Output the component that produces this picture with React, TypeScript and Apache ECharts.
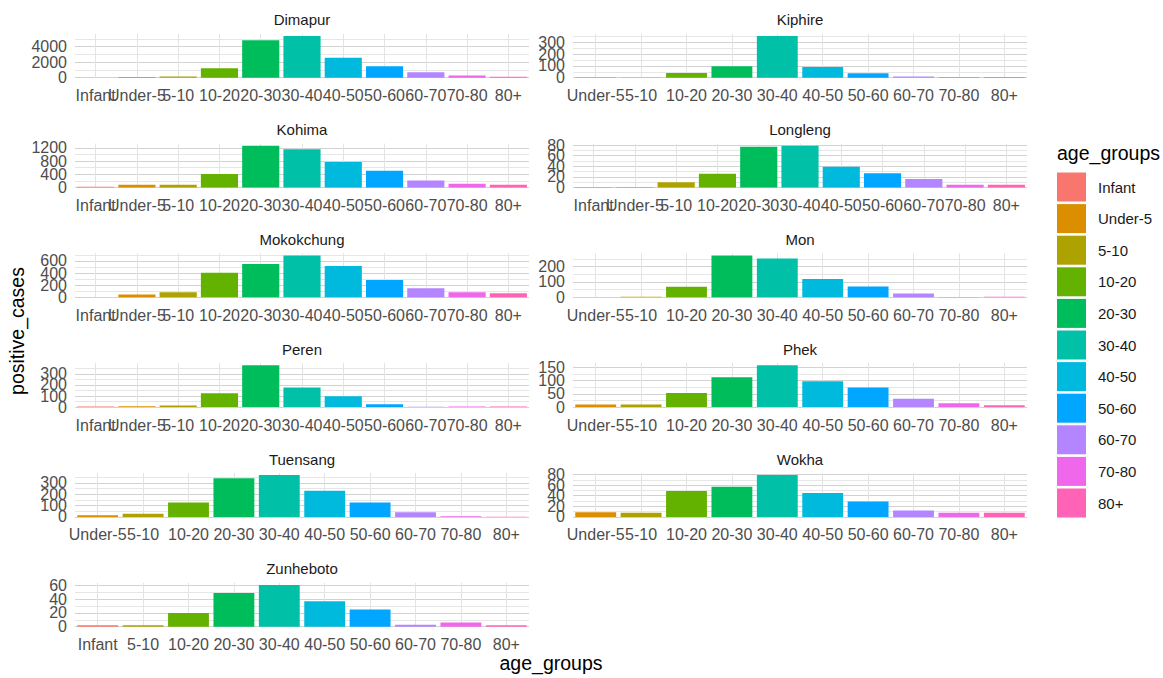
import React, { useEffect, useRef } from 'react';
import * as echarts from 'echarts';

const ageGroups = ['Infant', 'Under-5', '5-10', '10-20', '20-30', '30-40', '40-50', '50-60', '60-70', '70-80', '80+'];
const groupColors = ['#F8766D', '#DB8E00', '#AEA200', '#64B200', '#00BD5C', '#00C1A7', '#00BADE', '#00A6FF', '#B385FF', '#EF67EB', '#FF63B6'];

const districts = ['Dimapur', 'Kiphire', 'Kohima', 'Longleng', 'Mokokchung', 'Mon', 'Peren', 'Phek', 'Tuensang', 'Wokha', 'Zunheboto'];

const allGroups = ageGroups;
const groupsNoInfant = ageGroups.filter((g) => g !== 'Infant');
const groupsNoUnder5 = ageGroups.filter((g) => g !== 'Under-5');

const dimapurCases = [5, 80, 150, 1220, 4820, 5380, 2560, 1460, 700, 270, 130];
const kiphireCases = [3, 2, 40, 97, 357, 91, 38, 10, 5, 5];
const kohimaCases = [20, 80, 80, 410, 1265, 1160, 770, 505, 210, 110, 80];
const longlengCases = [1, 1, 10, 26, 77, 79, 39, 27, 16, 5, 5];
const mokokchungCases = [1, 45, 84, 403, 549, 689, 516, 286, 151, 84, 67];
const monCases = [1, 4, 69, 273, 253, 120, 71, 25, 2, 3];
const perenCases = [5, 8, 15, 125, 378, 178, 98, 25, 3, 5, 6];
const phekCases = [10, 10, 53, 113, 158, 98, 74, 32, 15, 7];
const tuensangCases = [15, 27, 126, 342, 369, 231, 126, 42, 5, 1];
const wokhaCases = [9, 8, 49, 57, 79, 45, 29, 12, 8, 8];
const zunhebotoCases = [2, 2, 20, 49, 61, 37, 25, 3, 6, 2];

const panelCategories = [allGroups, groupsNoInfant, allGroups, allGroups, allGroups, groupsNoInfant, allGroups, groupsNoInfant, groupsNoInfant, groupsNoInfant, groupsNoUnder5];
const panelValues = [dimapurCases, kiphireCases, kohimaCases, longlengCases, mokokchungCases, monCases, perenCases, phekCases, tuensangCases, wokhaCases, zunhebotoCases];
const yMajorSteps = [2000, 100, 400, 20, 200, 100, 100, 50, 100, 20, 20];

const FONT = '"Liberation Sans", Arial, Helvetica, sans-serif';

export default function App() {
  const ref = useRef<HTMLDivElement>(null);

  useEffect(() => {
    document.body.style.margin = '0';
    if (!ref.current) return;
    const chart = echarts.init(ref.current, null, { renderer: 'svg' });

    const panelW = 454;
    const panelH = 43.9;
    const leftX = [75, 573];
    const topY = (r: number) => 33.8 + 109.8 * r;

    const grids: any[] = [];
    const xAxes: any[] = [];
    const yAxes: any[] = [];
    const series: any[] = [];
    const graphics: any[] = [];

    districts.forEach((name, i) => {
      const row = Math.floor(i / 2);
      const col = i % 2;
      const left = leftX[col];
      const top = topY(row);
      grids.push({ left, top, width: panelW, height: panelH, containLabel: false });

      const cats = panelCategories[i];
      const vals = panelValues[i];
      const maxV = Math.max(...vals);
      const ext = maxV * 1.05;
      const major = yMajorSteps[i];
      const minor = major / 2;
      const nReg = Math.floor(ext / minor) + 1;
      const lineColors: string[] = [];
      for (let k = 0; k < nReg; k++) lineColors.push(k % 2 === 0 ? '#d2d2d2' : '#e6e6e6');
      lineColors.push('rgba(0,0,0,0)');

      xAxes.push({
        type: 'category',
        gridIndex: i,
        data: cats,
        axisLine: { show: false },
        axisTick: { show: false },
        axisLabel: {
          interval: 0,
          hideOverlap: false,
          fontSize: 16,
          color: '#4d4d4d',
          fontFamily: FONT,
          margin: 10,
        },
        splitLine: { show: true, alignWithLabel: true, lineStyle: { color: '#e3e3e3', width: 1 } },
      });
      yAxes.push({
        type: 'value',
        gridIndex: i,
        min: 0,
        max: ext,
        interval: minor,
        axisLine: { show: false },
        axisTick: { show: false },
        axisLabel: {
          fontSize: 16,
          color: '#4d4d4d',
          fontFamily: FONT,
          margin: 8,
          formatter: (v: number) => (Math.abs(v % major) < 1e-9 && v <= ext ? String(v) : ''),
        },
        splitLine: { show: true, lineStyle: { color: lineColors, width: 1 } },
      });
      series.push({
        type: 'bar',
        name: name,
        xAxisIndex: i,
        yAxisIndex: i,
        barCategoryGap: '10%',
        data: vals.map((v, j) => ({
          value: v,
          itemStyle: { color: groupColors[ageGroups.indexOf(cats[j])] },
        })),
      });
      graphics.push({
        type: 'text',
        x: left + panelW / 2,
        y: top - 14,
        style: {
          text: name,
          fontSize: 15,
          fontFamily: FONT,
          fill: '#1a1a1a',
          textAlign: 'center',
          textVerticalAlign: 'middle',
        },
      });
    });

    // hidden grid that only carries the legend entries
    const hiddenIdx = districts.length;
    grids.push({ left: 0, top: 0, width: 1, height: 1, show: false });
    xAxes.push({ type: 'category', gridIndex: hiddenIdx, show: false, data: ['x'] });
    yAxes.push({ type: 'value', gridIndex: hiddenIdx, show: false });
    ageGroups.forEach((g, k) => {
      series.push({
        type: 'bar',
        name: g,
        xAxisIndex: hiddenIdx,
        yAxisIndex: hiddenIdx,
        data: [],
        itemStyle: { color: groupColors[k] },
      });
    });

    graphics.push({
      type: 'text',
      x: 551,
      y: 663,
      style: { text: 'age_groups', fontSize: 19.5, fontFamily: FONT, fill: '#000', textAlign: 'center', textVerticalAlign: 'middle' },
    });
    graphics.push({
      type: 'text',
      x: 17,
      y: 331,
      rotation: Math.PI / 2,
      style: { text: 'positive_cases', fontSize: 19.5, fontFamily: FONT, fill: '#000', textAlign: 'center', textVerticalAlign: 'middle' },
    });
    graphics.push({
      type: 'text',
      x: 1057,
      y: 153,
      style: { text: 'age_groups', fontSize: 19.5, fontFamily: FONT, fill: '#000', textAlign: 'left', textVerticalAlign: 'middle' },
    });

    chart.setOption({
      animation: false,
      grid: grids,
      xAxis: xAxes,
      yAxis: yAxes,
      series,
      legend: {
        orient: 'vertical',
        left: 1057,
        top: 172.5,
        padding: 0,
        itemWidth: 29,
        itemHeight: 29,
        itemGap: 2.6,
        icon: 'rect',
        selectedMode: false,
        data: ageGroups,
        textStyle: { fontSize: 15, color: '#1a1a1a', fontFamily: FONT, padding: [0, 0, 0, 7] },
      },
      graphic: graphics,
    });

    return () => chart.dispose();
  }, []);

  return <div ref={ref} style={{ width: 1163, height: 678 }} />;
}
